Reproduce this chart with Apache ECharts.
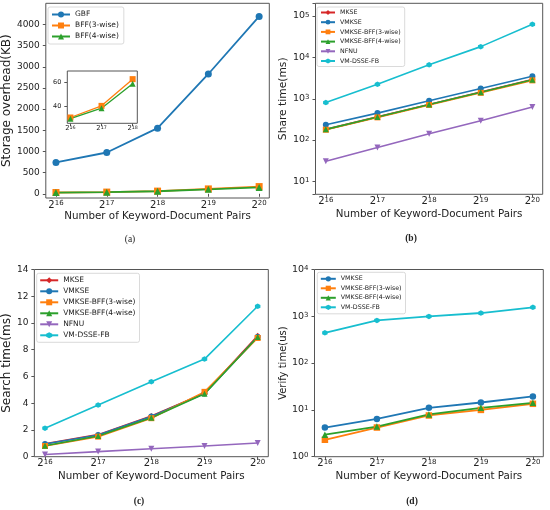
<!DOCTYPE html>
<html><head><meta charset="utf-8">
<script src="https://cdn.jsdelivr.net/npm/echarts@6/dist/echarts.min.js"></script>
<style>html,body{margin:0;padding:0;background:#fff}#c{width:550px;height:510px}</style>
</head><body><div id="c"></div>
<script>
// ---- data ----
const xExp = [16, 17, 18, 19, 20];          // x = 2^exp
const xExpInset = [16, 17, 18];
// (a) storage overhead (KB)
const gbfA = [740, 975, 1550, 2830, 4190];
const bff3A = [30, 40, 63, 115, 170];
const bff4A = [29, 38, 59, 105, 150];
const yTicksA = [0, 500, 1000, 1500, 2000, 2500, 3000, 3500, 4000];
const yTicksInset = [40, 60];
// (b) share time (ms)
const mkseB = [182, 365, 730, 1450, 2900];
const vmkseB = [235, 450, 890, 1770, 3500];
const bff3B = [178, 355, 710, 1390, 2780];
const bff4B = [182, 362, 725, 1430, 2880];
const nfnuB = [31, 66, 142, 295, 630];
const dsseB = [810, 2240, 6600, 18200, 63000];
// (c) search time (ms)
const mkseC = [0.97, 1.65, 3.05, 4.75, 9.05];
const vmkseC = [0.95, 1.62, 3.0, 4.72, 8.95];
const bff3C = [0.8, 1.5, 2.88, 4.85, 8.88];
const bff4C = [0.82, 1.55, 2.92, 4.7, 8.95];
const nfnuC = [0.17, 0.38, 0.6, 0.8, 1.03];
const dsseC = [2.13, 3.86, 5.61, 7.3, 11.25];
const yTicksC = [0, 2, 4, 6, 8, 10, 12, 14];
// (d) verify time (us)
const vmkseD = [4.2, 6.4, 11.1, 14.4, 19.4];
const bff3D = [2.3, 4.2, 7.6, 10.0, 13.5];
const bff4D = [2.95, 4.4, 8.0, 11.1, 14.2];
const dsseD = [445, 817, 996, 1175, 1555];

// ---- style ----
const FONT = 'DejaVu Sans';
const C = {blue:'#1f77b4', orange:'#ff7f0e', green:'#2ca02c', red:'#d62728', purple:'#9467bd', cyan:'#17becf'};
const HEX = 'path://M0,-1L0.866,-0.5L0.866,0.5L0,1L-0.866,0.5L-0.866,-0.5Z';
const TRI_DOWN = 'path://M-1,-0.8L1,-0.8L0,1Z';
const AX = '#555';

function rich(base, sup) {
  return {
    b: {fontSize: base, lineHeight: base, verticalAlign: 'bottom', fontFamily: FONT, color: '#222'},
    s: {fontSize: sup, lineHeight: 3, verticalAlign: 'top', fontFamily: FONT, color: '#222'}
  };
}
function xAxis(gi, min, max, vals, base, sup, name, nameGap) {
  return {
    type: 'value', gridIndex: gi, min: min, max: max,
    splitLine: {show: false}, axisLine: {show: false},
    axisTick: {show: true, length: 3, lineStyle: {color: AX}, customValues: vals},
    axisLabel: {customValues: vals, margin: 2, rich: rich(base, sup),
      formatter: v => Number.isInteger(v) ? '{b|2}{s|' + v + '}' : ''},
    name: name, nameLocation: 'middle', nameGap: nameGap,
    nameTextStyle: {fontFamily: FONT, fontSize: 10.3, color: '#222'}
  };
}
function yLin(gi, min, max, vals, fs, name, nameGap, nameFs) {
  return {
    type: 'value', gridIndex: gi, min: min, max: max,
    splitLine: {show: false}, axisLine: {show: false},
    axisTick: {show: true, length: 3, lineStyle: {color: AX}, customValues: vals},
    axisLabel: {customValues: vals, margin: 6, fontFamily: FONT, fontSize: fs, color: '#222',
      formatter: v => String(v)},
    name: name, nameLocation: 'middle', nameGap: nameGap,
    nameTextStyle: {fontFamily: FONT, fontSize: nameFs, color: '#222'}
  };
}
function yLog(gi, min, max, name, nameGap, nameFs) {
  return {
    type: 'log', logBase: 10, gridIndex: gi, min: min, max: max,
    splitLine: {show: false}, axisLine: {show: false},
    axisTick: {show: true, length: 3, lineStyle: {color: AX}},
    axisLabel: {margin: 6, rich: rich(9.5, 7),
      formatter: v => { const l = Math.log10(v); const e = Math.round(l);
        return Math.abs(l - e) < 1e-6 ? '{b|10}{s|' + e + '}' : ''; }},
    name: name, nameLocation: 'middle', nameGap: nameGap,
    nameTextStyle: {fontFamily: FONT, fontSize: nameFs, color: '#222'}
  };
}
function line(name, xs, vals, color, symbol, size, axi, lw, z) {
  return {
    type: 'line', name: name, xAxisIndex: axi, yAxisIndex: axi,
    data: xs.map((x, i) => [x, vals[i]]),
    symbol: symbol, symbolSize: size, showSymbol: true,
    lineStyle: {width: lw, color: color}, itemStyle: {color: color},
    color: color, animation: false, z: z || 2, emphasis: {disabled: true}
  };
}
function legend(names, left, top, fs, lh, gap, iw, ih, pad) {
  return {
    data: names, orient: 'vertical', left: left, top: top,
    itemWidth: iw, itemHeight: ih, itemGap: gap, padding: pad,
    backgroundColor: 'rgba(255,255,255,0.85)', borderColor: '#d0d0d0', borderWidth: 0.8, borderRadius: 2,
    textStyle: {fontFamily: FONT, fontSize: fs, lineHeight: lh, color: '#222', padding: [0, 0, 0, 0]},
    selectedMode: false
  };
}

const grids = [
  {left: 44.5, top: 3.3, width: 224.8, height: 194.7},
  {left: 67.3, top: 71, width: 70, height: 52.3, z: 5, backgroundColor: '#fff'},
  {left: 315.5, top: 3.3, width: 227.2, height: 191},
  {left: 33.3, top: 269.5, width: 235, height: 187.2},
  {left: 314.5, top: 269.5, width: 228.8, height: 187.2}
].map(g => Object.assign({show: true, borderColor: AX, borderWidth: 1, backgroundColor: g.backgroundColor || 'transparent'}, g));

const XN = 'Number of Keyword-Document Pairs';
const xAxes = [
  xAxis(0, 15.8, 20.2, xExp, 10, 7, XN, 13),
  xAxis(1, 15.9, 18.15, xExpInset, 6.8, 4.8, '', 0),
  xAxis(2, 15.8, 20.2, xExp, 10, 7, XN, 15),
  xAxis(3, 15.8, 20.2, xExp, 10, 7, XN, 14.5),
  xAxis(4, 15.8, 20.2, xExp, 10, 7, XN, 14.5)
];
const yAxes = [
  yLin(0, -100, 4500, yTicksA, 9, 'Storage overhead(KB)', 28, 12),
  yLin(1, 25, 70, yTicksInset, 6.5, '', 0, 6),
  yLog(2, 4.9, 203000, 'Share time(ms)', 22, 10.7),
  yLin(3, 0, 14, yTicksC, 9, 'Search time(ms)', 15, 12),
  yLog(4, 1, 10000, 'Verify time(us)', 22, 10)
];

const series = [
  line('GBF', xExp, gbfA, C.blue, 'circle', 7, 0, 1.8),
  line('BFF(3-wise)', xExp, bff3A, C.orange, 'rect', 7, 0, 1.8),
  line('BFF(4-wise)', xExp, bff4A, C.green, 'triangle', 7, 0, 1.8),
  line('BFF(3-wise)', xExpInset, bff3A.slice(0, 3), C.orange, 'rect', 6, 1, 1.3, 7),
  line('BFF(4-wise)', xExpInset, bff4A.slice(0, 3), C.green, 'triangle', 6, 1, 1.3, 7),

  line('MKSE', xExp, mkseB, C.red, 'diamond', 6, 2, 1.6),
  line('VMKSE', xExp, vmkseB, C.blue, 'circle', 6, 2, 1.6),
  line('VMKSE-BFF(3-wise)', xExp, bff3B, C.orange, 'rect', 6, 2, 1.6),
  line('VMKSE-BFF(4-wise)', xExp, bff4B, C.green, 'triangle', 6, 2, 1.6),
  line('NFNU', xExp, nfnuB, C.purple, TRI_DOWN, 6, 2, 1.6),
  line('VM-DSSE-FB', xExp, dsseB, C.cyan, HEX, 5.5, 2, 1.6),

  line('MKSE', xExp, mkseC, C.red, 'diamond', 6, 3, 1.6),
  line('VMKSE', xExp, vmkseC, C.blue, 'circle', 6, 3, 1.6),
  line('VMKSE-BFF(3-wise)', xExp, bff3C, C.orange, 'rect', 6, 3, 1.6),
  line('VMKSE-BFF(4-wise)', xExp, bff4C, C.green, 'triangle', 6, 3, 1.6),
  line('NFNU', xExp, nfnuC, C.purple, TRI_DOWN, 6, 3, 1.6),
  line('VM-DSSE-FB', xExp, dsseC, C.cyan, HEX, 5.5, 3, 1.6),

  line('VMKSE', xExp, vmkseD, C.blue, 'circle', 6.5, 4, 1.8),
  line('VMKSE-BFF(3-wise)', xExp, bff3D, C.orange, 'rect', 6.5, 4, 1.8),
  line('VMKSE-BFF(4-wise)', xExp, bff4D, C.green, 'triangle', 6.5, 4, 1.8),
  line('VM-DSSE-FB', xExp, dsseD, C.cyan, HEX, 5.5, 4, 1.8)
];

const legends = [
  legend(['GBF', 'BFF(3-wise)', 'BFF(4-wise)'], 48, 7, 7.5, 9, 2, 18, 7.5, [3, 5, 3, 3]),
  legend(['MKSE', 'VMKSE', 'VMKSE-BFF(3-wise)', 'VMKSE-BFF(4-wise)', 'NFNU', 'VM-DSSE-FB'], 317, 7, 6.3, 8, 1.7, 14, 6, [1.5, 4, 1.5, 3]),
  legend(['MKSE', 'VMKSE', 'VMKSE-BFF(3-wise)', 'VMKSE-BFF(4-wise)', 'NFNU', 'VM-DSSE-FB'], 36.7, 273.3, 7.5, 9, 2, 18, 7.5, [2.5, 4, 2.5, 2.5]),
  legend(['VMKSE', 'VMKSE-BFF(3-wise)', 'VMKSE-BFF(4-wise)', 'VM-DSSE-FB'], 317.3, 272.3, 6.3, 8, 1.5, 15, 6.5, [2.5, 4, 2.5, 2.5])
];

function cap(t, x, y, bold) {
  return {type: 'text', x: x, y: y, silent: true,
    style: {text: t, fill: '#222', font: (bold ? 'bold ' : '') + '9.5px "Liberation Serif"', textAlign: 'center', textVerticalAlign: 'middle'}};
}

const chart = echarts.init(document.getElementById('c'), null, {renderer: 'canvas'});
chart.setOption({
  animation: false,
  backgroundColor: '#fff',
  grid: grids, xAxis: xAxes, yAxis: yAxes, series: series, legend: legends,
  graphic: [cap('(a)', 130, 239, false), cap('(b)', 411, 239, true), cap('(c)', 139, 502, true), cap('(d)', 412, 502, true)]
});
</script></body></html>
